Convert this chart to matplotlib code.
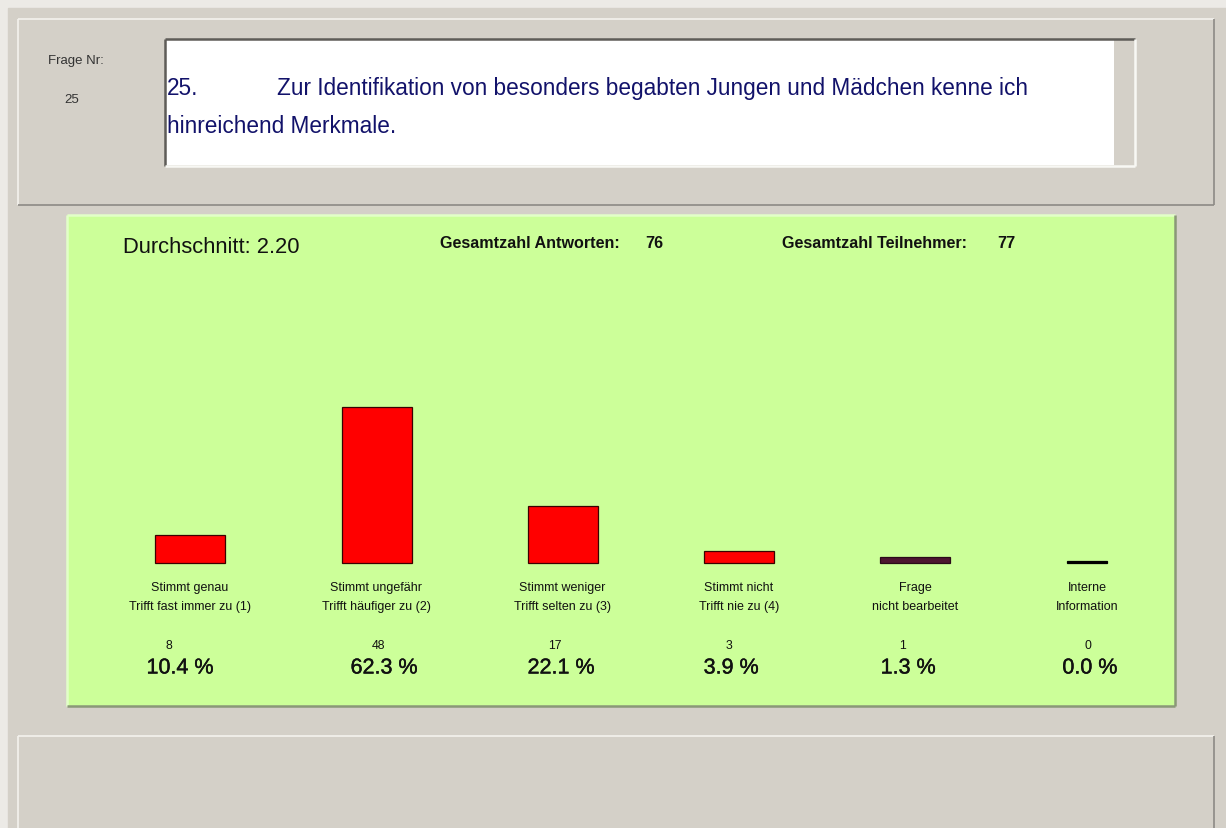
import numpy as np
import matplotlib
matplotlib.use('Agg')
import matplotlib.pyplot as plt
import matplotlib.patheffects as pe
from matplotlib.patches import Rectangle

plt.rcParams['font.family'] = ['Liberation Sans', 'DejaVu Sans']

## DATA
question_no = 25
question_head = '25.'
question_line1 = 'Zur Identifikation von besonders begabten Jungen und Mädchen kenne ich'
question_line2 = 'hinreichend Merkmale.'
label_line1 = ['Stimmt genau', 'Stimmt ungefähr', 'Stimmt weniger', 'Stimmt nicht', 'Frage', 'Interne']
label_line2 = ['Trifft fast immer zu (1)', 'Trifft häufiger zu (2)', 'Trifft selten zu (3)',
               'Trifft nie zu (4)', 'nicht bearbeitet', 'Information']
counts = [8, 48, 17, 3, 1, 0]
scale_values = [1, 2, 3, 4]          # the first four answers form the rating scale
total_answers = 76
total_participants = 77

percents = [c / total_participants * 100 for c in counts]
average = sum(c * v for c, v in zip(counts, scale_values)) / total_answers

## LAYOUT (pixels)
W, H = 1226, 829
GRAY = '#D4D0C8'
GREEN = '#CCFF99'
INK = '#111111'
bar_x = [190, 376.5, 562.5, 739, 915, 1087]
bar_w = [70, 70, 70, 70, 70, 40]
count_x = [169, 378, 555, 729, 903, 1088]
pct_x = [180, 384, 561, 731, 908, 1090]
bar_colors = ['#FF0000', '#FF0000', '#FF0000', '#FF0000', '#4D1530', '#000000']
bar_edges = ['#3A0000', '#3A0000', '#3A0000', '#3A0000', '#2A0A18', '#000000']
px_per_count = 3.2
stub = 0.75        # minimum visible height, in counts
baseline = 564
green_box = (67, 216, 1175, 707)


def frac_rect(x0, y0, x1, y1):
    return [x0 / W, 1 - y1 / H, (x1 - x0) / W, (y1 - y0) / H]


def bevel(ax, x0, y0, x1, y1, light, dark, lw=1.2):
    ax.plot([x0, x1], [y0, y0], color=light, lw=lw, solid_capstyle='butt')
    ax.plot([x0, x0], [y0, y1], color=light, lw=lw, solid_capstyle='butt')
    ax.plot([x0, x1], [y1, y1], color=dark, lw=lw, solid_capstyle='butt')
    ax.plot([x1, x1], [y0, y1], color=dark, lw=lw, solid_capstyle='butt')


fig = plt.figure(figsize=(W / 100, H / 100), dpi=100)

# window background in pixel coordinates
bg = fig.add_axes([0, 0, 1, 1])
bg.set_xlim(0, W)
bg.set_ylim(H, 0)
bg.axis('off')
bg.add_patch(Rectangle((0, 0), W, H, color='#ECEAE6', zorder=0))
bg.add_patch(Rectangle((8, 9), W, H, color=GRAY, zorder=0))

# question panel
bevel(bg, 18, 20, 1214, 206, '#F4F2EE', '#8C8A85')
bg.add_patch(Rectangle((165, 40), 970, 127, facecolor=GRAY, edgecolor='none'))
bg.add_patch(Rectangle((166, 41), 948, 125, facecolor='white', edgecolor='none'))
bevel(bg, 165, 40, 1135, 167, '#5E5C58', '#F8F8F4', lw=1.8)
bg.text(48, 61, 'Frage Nr:', fontsize=9.5, color='#333333', va='center')
bg.text(72, 100, str(question_no), fontsize=9.5, color='#333333', va='center', ha='center')
qstyle = dict(fontsize=16.3, color='#12126A', va='center')
bg.text(167, 88, question_head, **qstyle)
bg.text(277, 88, question_line1, **qstyle)
bg.text(167, 126, question_line2, **qstyle)

# result panel
gx0, gy0, gx1, gy1 = green_box
bg.add_patch(Rectangle((gx0, gy0), gx1 - gx0, gy1 - gy0, facecolor=GREEN, edgecolor='none'))
bevel(bg, gx0, gy0, gx1, gy1, '#E2FFC8', '#8A9878', lw=1.8)
bg.text(123, 247, f'Durchschnitt: {average:.2f}', fontsize=15.8, color=INK, va='center')
bg.text(440, 243, 'Gesamtzahl Antworten:', fontsize=11.6, fontweight='bold', color=INK, va='center')
bg.text(663, 243, str(total_answers), fontsize=11.6, fontweight='bold', color=INK,
        va='center', ha='right')
bg.text(782, 243, 'Gesamtzahl Teilnehmer:', fontsize=11.6, fontweight='bold', color=INK, va='center')
bg.text(1016, 243, str(total_participants), fontsize=11.6, fontweight='bold', color=INK,
        va='center', ha='right')

# percentages are a touch heavier than regular weight
thick = [pe.withStroke(linewidth=0.3, foreground=INK)]
for i in range(len(counts)):
    bg.text(bar_x[i], 588, label_line1[i], fontsize=9, ha='center', va='center', color=INK)
    bg.text(bar_x[i], 607, label_line2[i], fontsize=9, ha='center', va='center', color=INK)
    bg.text(count_x[i], 646, str(counts[i]), fontsize=8.8, ha='center', va='center', color=INK)
    bg.text(pct_x[i], 669, f'{percents[i]:.1f} %', fontsize=15.5, ha='center', va='center',
            color=INK, path_effects=thick)

# empty panel below
bevel(bg, 18, 737, 1214, 840, '#F4F2EE', '#8C8A85')

# bars, drawn in count units over the green panel
ax = fig.add_axes(frac_rect(*green_box))
ax.set_xlim(gx0, gx1)
ax.set_ylim(-(gy1 - baseline) / px_per_count, (baseline - gy0) / px_per_count)
ax.axis('off')
ax.bar(bar_x, np.array(counts) + stub, width=bar_w, bottom=0,
       color=bar_colors, edgecolor=bar_edges, linewidth=0.9)

plt.savefig('out.png', dpi=100)
